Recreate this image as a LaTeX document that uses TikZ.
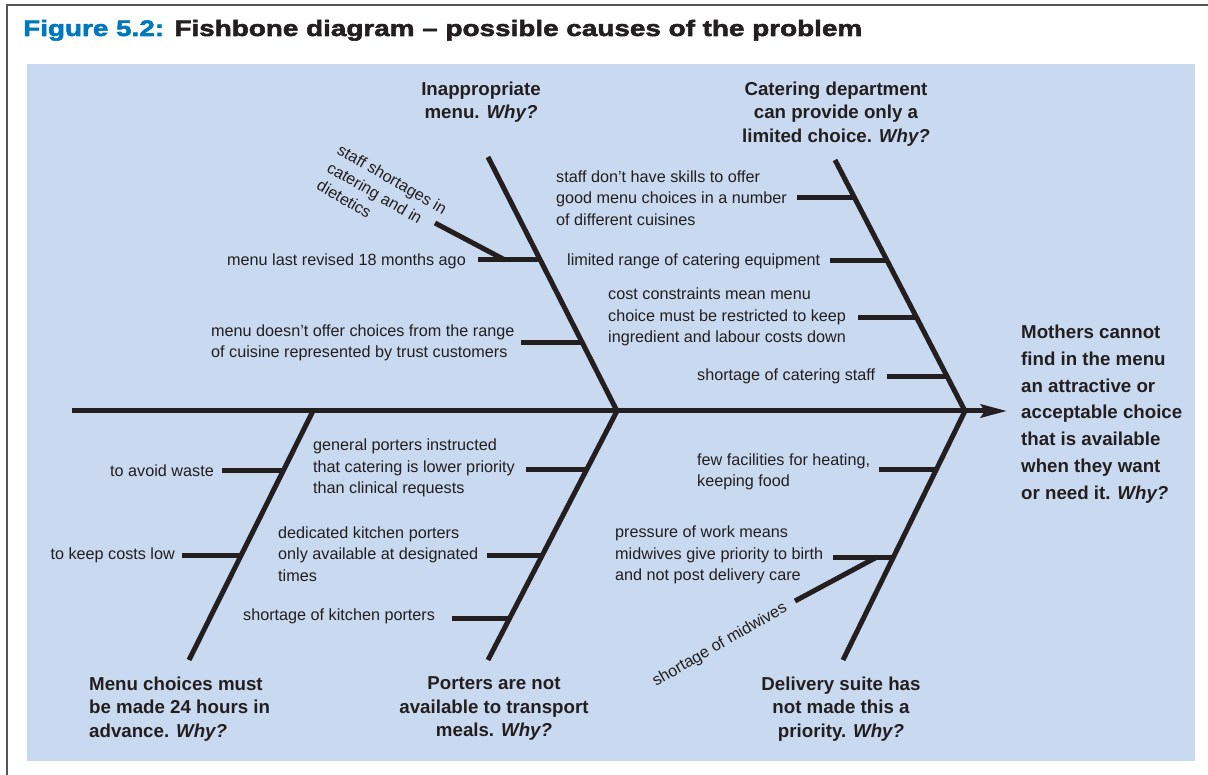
\documentclass[tikz,border=0pt]{standalone}
\usepackage{fontspec}
\setmainfont{Liberation Sans}
\newfontfamily\titlefont[FakeStretch=1.25,FakeBold=2.5]{Liberation Sans}
\usetikzlibrary{arrows.meta}
\definecolor{bgblue}{RGB}{200,217,240}
\definecolor{titleblue}{RGB}{0,120,190}
\definecolor{ink}{RGB}{35,31,32}
\definecolor{framegray}{RGB}{85,85,85}
\tikzset{
  bone/.style={line width=5pt, draw=ink},
  rib/.style={line width=5pt, draw=ink},
  small/.style={font=\fontsize{16.2}{21.3}\selectfont, text=ink, inner sep=0pt, align=left},
  head/.style={font=\fontsize{18.7}{23.5}\selectfont\bfseries, text=ink, inner sep=0pt},
}
\begin{document}
\begin{tikzpicture}[x=1pt,y=-1pt]
\useasboundingbox (0,0) rectangle (1208,775);
\fill[bgblue] (27,64) rectangle (1195,761);
\draw[framegray, line width=2pt] (7,775) -- (7,5) -- (1208,5);
\node[anchor=base west, inner sep=0pt, text=ink, font=\titlefont\fontsize{22.3}{26}\selectfont\bfseries] (title) at (23,36)
  {\textcolor{titleblue}{Figure 5.2:} Fishbone diagram – possible causes of the problem};

% spine and bones
\coordinate (tail) at (72,411);
\coordinate (tip) at (1007,411);
\coordinate (jC) at (313,411);
\coordinate (jA) at (617,411);
\coordinate (jB) at (965,411);
\coordinate (b1top) at (488,157);
\coordinate (b2top) at (835,160);
\coordinate (b3bot) at (189,660);
\coordinate (b4bot) at (488,660);
\coordinate (b5bot) at (843,660);
\draw[bone, -{Stealth[length=26pt 0, width=13pt 0, inset=4pt 0]}] (tail) -- (tip);
\draw[bone] (b1top) -- (jA);
\draw[bone] (b2top) -- (jB);
\draw[bone] (jC) -- (b3bot);
\draw[bone] (jA) -- (b4bot);
\draw[bone] (jB) -- (b5bot);

% ribs
\coordinate (r1a) at (478,260);   \coordinate (r1b) at (540.3,260);
\coordinate (d1a) at (435,223);   \coordinate (d1b) at (505,260);
\coordinate (r2a) at (521,343);   \coordinate (r2b) at (582.5,343);
\coordinate (r3a) at (797,198);   \coordinate (r3b) at (854.7,198);
\coordinate (r4a) at (830,261);   \coordinate (r4b) at (887.3,261);
\coordinate (r5a) at (858,318);   \coordinate (r5b) at (916.8,318);
\coordinate (r6a) at (887,377);   \coordinate (r6b) at (947.4,377);
\coordinate (r7a) at (222,471);   \coordinate (r7b) at (283.1,471);
\coordinate (r8a) at (182,555);   \coordinate (r8b) at (241.3,555);
\coordinate (r9a) at (526,470);   \coordinate (r9b) at (586.4,470);
\coordinate (r10a) at (487,555);  \coordinate (r10b) at (542.4,555);
\coordinate (r11a) at (452,618);  \coordinate (r11b) at (509.8,618);
\coordinate (r12a) at (879,470);  \coordinate (r12b) at (936.1,470);
\coordinate (r13a) at (833,557);  \coordinate (r13b) at (893.5,557);
\coordinate (d2a) at (795,601);   \coordinate (d2b) at (877,557);
\foreach \a/\b in {r1a/r1b,d1a/d1b,r2a/r2b,r3a/r3b,r4a/r4b,r5a/r5b,r6a/r6b,r7a/r7b,r8a/r8b,r9a/r9b,r10a/r10b,r11a/r11b,r12a/r12b,r13a/r13b,d2a/d2b}
  \draw[rib] (\a) -- (\b);

% cause texts
\node[small, anchor=east] (t1) at (466,261) {menu last revised 18 months ago};
\node[small, anchor=west] (t2) at (211,343) {menu doesn’t offer choices from the range\\of cuisine represented by trust customers};
\node[small, anchor=west] (t3) at (556,198) {staff don’t have skills to offer\\good menu choices in a number\\of different cuisines};
\node[small, anchor=west] (t4) at (567,261) {limited range of catering equipment};
\node[small, anchor=west] (t5) at (608,317) {cost constraints mean menu\\choice must be restricted to keep\\ingredient and labour costs down};
\node[small, anchor=west] (t6) at (697,376) {shortage of catering staff};
\node[small, anchor=east] (t7) at (214,471) {to avoid waste};
\node[small, anchor=east] (t8) at (175,555) {to keep costs low};
\node[small, anchor=west] (t9) at (313,468) {general porters instructed\\that catering is lower priority\\than clinical requests};
\node[small, anchor=west] (t10) at (278,554) {dedicated kitchen porters\\only available at designated\\times};
\node[small, anchor=west] (t11) at (243,616) {shortage of kitchen porters};
\node[small, anchor=west] (t12) at (697,472) {few facilities for heating,\\keeping food};
\node[small, anchor=west] (t13) at (615,555) {pressure of work means\\midwives give priority to birth\\and not post delivery care};
\node[small, anchor=north west, rotate=-30, font=\fontsize{16.2}{20.5}\selectfont] (t14) at (342,143) {staff shortages in\\catering and in\\dietetics};
\node[small, rotate=30] (t15) at (720,645) {shortage of midwives};

% head labels
\node[head, align=center] (h1) at (481,102) {Inappropriate\\menu. \textit{Why?}};
\node[head, align=center] (h2) at (836,114) {Catering department\\can provide only a\\limited choice. \textit{Why?}};
\node[head, align=left, anchor=west, font=\fontsize{18.7}{26.8}\selectfont\bfseries] (h3) at (1021,414)
  {Mothers cannot\\find in the menu\\an attractive or\\acceptable choice\\that is available\\when they want\\or need it. \textit{Why?}};
\node[head, align=left, anchor=west] (h4) at (89,709) {Menu choices must\\be made 24 hours in\\advance. \textit{Why?}};
\node[head, align=center] (h5) at (494,709) {Porters are not\\available to transport\\meals. \textit{Why?}};
\node[head, align=center] (h6) at (841,709) {Delivery suite has\\not made this a\\priority. \textit{Why?}};
\end{tikzpicture}
\end{document}
